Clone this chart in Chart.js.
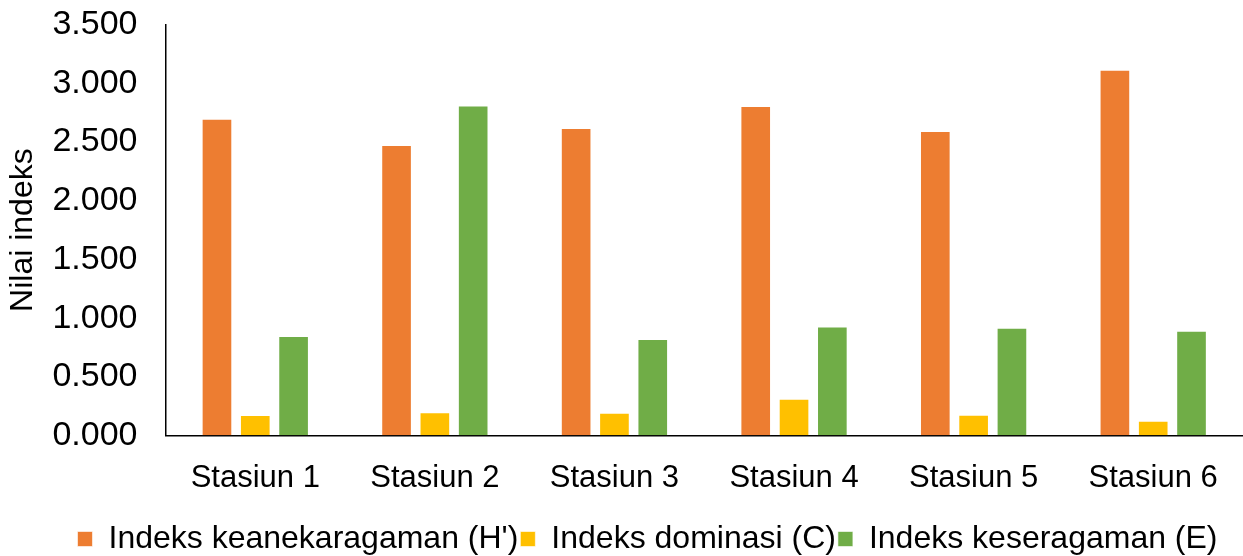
<!DOCTYPE html>
<html>
<head>
<meta charset="utf-8">
<script src="https://cdn.jsdelivr.net/npm/chart.js@4.4.0/dist/chart.umd.min.js"></script>
<style>
  html, body { margin: 0; padding: 0; background: #fff; }
  #wrap { width: 1243px; height: 556px; }
</style>
</head>
<body>
<div id="wrap"><canvas id="chart"></canvas></div>
<script>
const stations = ["Stasiun 1", "Stasiun 2", "Stasiun 3", "Stasiun 4", "Stasiun 5", "Stasiun 6"];
const diversity = [2.698, 2.474, 2.619, 2.806, 2.593, 3.115];
const dominance = [0.176, 0.200, 0.196, 0.315, 0.179, 0.128];
const evenness = [0.849, 2.809, 0.823, 0.930, 0.919, 0.894];
const seriesNames = ["Indeks keanekaragaman (H')", "Indeks dominasi (C)", "Indeks keseragaman (E)"];

const font = "'Liberation Sans', Arial, sans-serif";

const bar = (label, data, color) => ({
  label: label,
  data: data,
  backgroundColor: color,
  borderColor: 'rgba(255,255,255,0.6)',
  borderWidth: 1,
  categoryPercentage: 0.64,
  barPercentage: 0.8
});

// nudge the legend a bit to the right, like the original
const legendShift = {
  id: 'legendShift',
  afterUpdate(chart) {
    chart.legend.left += 24;
    chart.legend.right += 24;
  }
};

const ctx = document.getElementById('chart').getContext('2d');
new Chart(ctx, {
  type: 'bar',
  data: {
    labels: stations,
    datasets: [
      bar(seriesNames[0], diversity, '#ED7D31'),
      bar(seriesNames[1], dominance, '#FFC000'),
      bar(seriesNames[2], evenness, '#70AD47')
    ]
  },
  plugins: [legendShift],
  options: {
    responsive: true,
    maintainAspectRatio: false,
    animation: false,
    layout: { padding: { top: 24, right: 0, left: 4, bottom: -9 } },
    plugins: {
      legend: {
        position: 'bottom',
        labels: {
          color: '#000',
          font: { family: font, size: 32 },
          boxWidth: 15,
          boxHeight: 15,
          padding: 2
        }
      },
      tooltip: { enabled: false }
    },
    scales: {
      x: {
        grid: { display: false, drawTicks: false },
        border: { display: true, color: '#000', width: 1.5 },
        ticks: {
          color: '#000',
          font: { family: font, size: 31 },
          padding: 24
        }
      },
      y: {
        min: 0,
        max: 3.5,
        grid: { display: true, drawOnChartArea: false, drawTicks: true, tickLength: 24, tickColor: 'rgba(0,0,0,0)' },
        border: { display: true, color: '#000', width: 1.5 },
        ticks: {
          stepSize: 0.5,
          color: '#000',
          font: { family: font, size: 34 },
          padding: 4,
          callback: (v) => v.toFixed(3)
        },
        title: {
          display: true,
          text: 'Nilai indeks',
          color: '#000',
          font: { family: font, size: 32 },
          padding: { top: 0, bottom: 6 }
        }
      }
    }
  }
});
</script>
</body>
</html>
